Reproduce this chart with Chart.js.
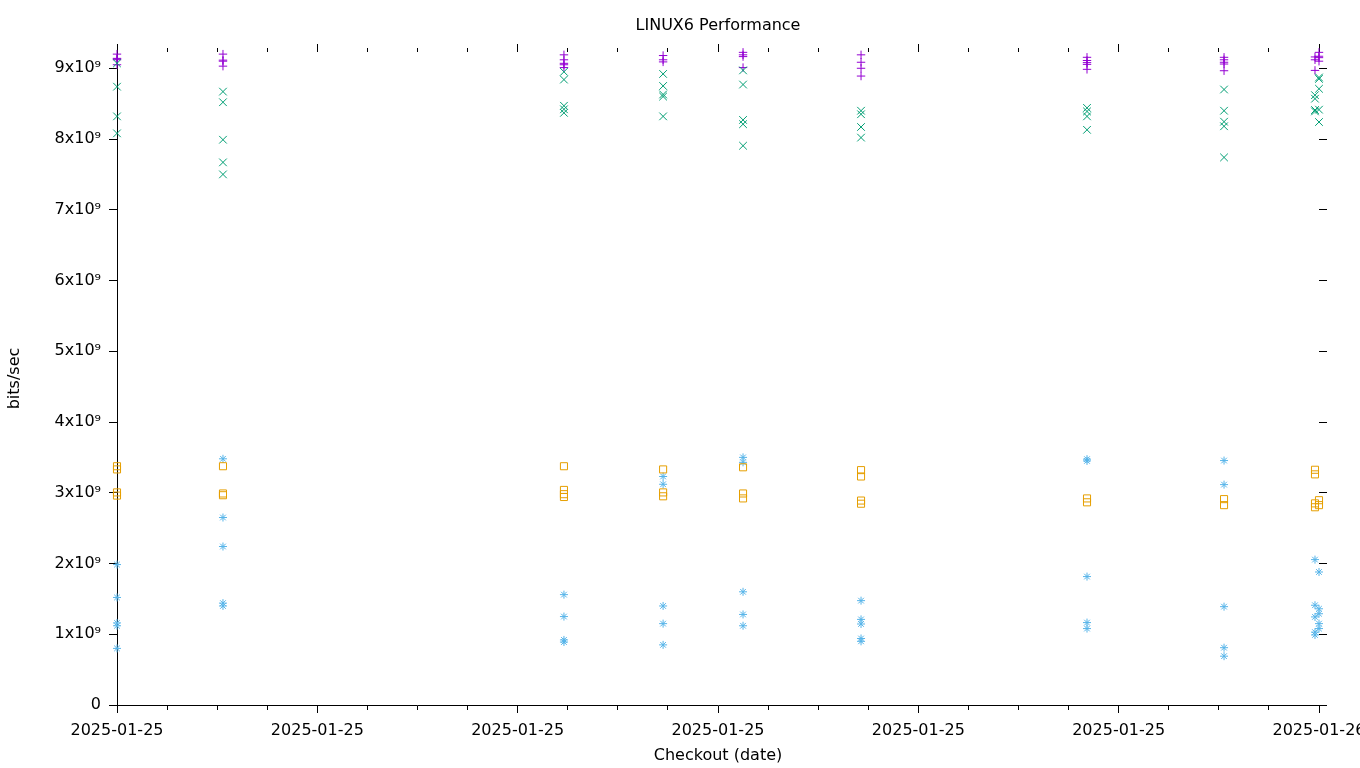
<!DOCTYPE html>
<html>
<head>
<meta charset="utf-8">
<script src="https://cdn.jsdelivr.net/npm/chart.js@4/dist/chart.umd.min.js"></script>
<style>
html,body{margin:0;padding:0;background:#fff;}
#wrap{width:1360px;height:768px;}
</style>
</head>
<body>
<div id="wrap"><canvas id="c" width="1360" height="768"></canvas></div>
<script>
// ---- data (values in units of 1x10^9 bits/sec) ----
const chartTitle = 'LINUX6 Performance';
const xTitle = 'Checkout (date)';
const yTitle = 'bits/sec';
// checkout positions along the time axis, in units of the major tick interval
const checkoutPositions = [0, 0.529, 2.231, 2.726, 3.125, 3.714, 4.842, 5.526, 5.980, 6.0];
const xTickLabels = ['2025-01-25', '2025-01-25', '2025-01-25', '2025-01-25', '2025-01-25', '2025-01-25', '2025-01-26'];
const yTickLabels = ['0', '1x10\u2079', '2x10\u2079', '3x10\u2079', '4x10\u2079', '5x10\u2079', '6x10\u2079', '7x10\u2079', '8x10\u2079', '9x10\u2079'];
const seriesColors = ['#9400d3', '#009e73', '#56b4e9', '#e69f00'];

const seriesPlus = [
  [9.20, 9.14, 9.13, 9.12, 9.05],
  [9.20, 9.115, 9.10, 9.03],
  [9.19, 9.12, 9.07, 9.05, 9.01],
  [9.18, 9.12, 9.09],
  [9.225, 9.19, 9.165, 9.01],
  [9.19, 9.085, 9.00, 8.89],
  [9.155, 9.11, 9.08, 9.055, 8.985],
  [9.155, 9.12, 9.085, 9.06, 8.965],
  [9.16, 9.12, 8.97],
  [9.225, 9.17, 9.15, 9.10]
];
const seriesCross = [
  [9.07, 8.74, 8.32, 8.08],
  [8.67, 8.52, 7.99, 7.67, 7.50],
  [8.95, 8.84, 8.47, 8.42, 8.37],
  [8.92, 8.75, 8.63, 8.60, 8.32],
  [8.97, 8.77, 8.27, 8.21, 7.905],
  [8.40, 8.35, 8.17, 8.02],
  [8.44, 8.39, 8.32, 8.13],
  [8.70, 8.40, 8.245, 8.18, 7.74],
  [8.62, 8.57, 8.41, 8.39],
  [8.87, 8.85, 8.71, 8.415, 8.24]
];
const seriesStar = [
  [1.985, 1.52, 1.16, 1.12, 0.80],
  [3.48, 2.65, 2.24, 1.44, 1.40],
  [1.56, 1.25, 0.92, 0.89],
  [3.23, 3.12, 1.40, 1.15, 0.85],
  [3.50, 3.43, 1.60, 1.28, 1.12],
  [1.475, 1.21, 1.145, 0.94, 0.90],
  [3.475, 3.45, 1.815, 1.165, 1.08],
  [3.455, 3.115, 1.39, 0.81, 0.69],
  [2.055, 1.41, 1.245, 1.03, 0.99],
  [1.88, 1.36, 1.29, 1.15, 1.08]
];
const seriesBox = [
  [3.375, 3.33, 3.005, 2.96],
  [3.375, 2.99, 2.965],
  [3.375, 3.04, 2.98, 2.94],
  [3.33, 3.005, 2.95],
  [3.36, 2.99, 2.92],
  [3.32, 3.23, 2.89, 2.845],
  [2.92, 2.865],
  [2.91, 2.825],
  [3.325, 3.26, 2.85, 2.795],
  [2.895, 2.825]
];
const xMin = 0, xMax = 6, xMinorStep = 0.25;
const yMin = 0, yMax = 9.23, yStep = 1;

// ---- build ----
function toPoints(groups) {
  const pts = [];
  groups.forEach((vals, i) => vals.forEach(v => pts.push({x: checkoutPositions[i], y: v})));
  return pts;
}
const isMajor = v => Math.abs(v - Math.round(v)) < 1e-6;

Chart.defaults.font.family = "'DejaVu Sans', sans-serif";
Chart.defaults.font.size = 16;
Chart.defaults.color = '#000';

const fixW = w => (s) => { s.width = w; s.paddingTop = 0; s.paddingBottom = 0; s.paddingLeft = 0; s.paddingRight = 0; };
const fixH = h => (s) => { s.height = h; s.paddingLeft = 0; s.paddingRight = 0; s.paddingTop = 0; s.paddingBottom = 0; };

const mk = (label, data, color, style, radius, order) => ({
  label, data, order,
  showLine: false,
  pointStyle: style,
  pointRadius: radius,
  pointHoverRadius: radius,
  pointBorderWidth: 1,
  borderColor: color,
  backgroundColor: 'rgba(0,0,0,0)',
  pointBackgroundColor: 'rgba(0,0,0,0)',
  pointBorderColor: color,
  clip: false
});

new Chart(document.getElementById('c'), {
  type: 'scatter',
  data: {
    datasets: [
      mk('s1', toPoints(seriesPlus), seriesColors[0], 'cross', 4.2, 4),
      mk('s2', toPoints(seriesCross), seriesColors[1], 'crossRot', 5.4, 3),
      mk('s3', toPoints(seriesStar), seriesColors[2], 'star', 4, 2),
      mk('s4', toPoints(seriesBox), seriesColors[3], 'rect', 5, 1)
    ]
  },
  options: {
    responsive: false,
    animation: false,
    events: [],
    layout: {padding: 0},
    plugins: {legend: {display: false}, tooltip: {enabled: false}, title: {display: false}},
    scales: {
      x: {
        type: 'linear', position: 'bottom', min: xMin, max: xMax, bounds: 'data',
        ticks: {
          stepSize: xMinorStep, maxTicksLimit: 1000, autoSkip: false, maxRotation: 0, minRotation: 0,
          includeBounds: false, padding: 8, color: '#000',
          callback: (v) => isMajor(v) ? xTickLabels[Math.round(v)] : ''
        },
        grid: {
          drawOnChartArea: false, color: '#000', tickLength: 8, tickWidth: 1,
          tickBorderDash: (c) => isMajor(c.tick.value) ? [] : [4, 100]
        },
        border: {display: true, color: '#000', width: 1},
        title: {display: true, text: xTitle, padding: {top: 0, bottom: 3}, font: {size: 16}},
        afterFit: fixH(63)
      },
      x2: {
        type: 'linear', position: 'top', min: xMin, max: xMax, bounds: 'data',
        ticks: {display: false, stepSize: xMinorStep, maxTicksLimit: 1000, includeBounds: false},
        grid: {
          drawOnChartArea: false, color: '#000', tickLength: 8, tickWidth: 1,
          tickBorderDash: (c) => isMajor(c.tick.value) ? [] : [0, 4, 4, 100]
        },
        border: {display: false},
        title: {display: true, text: chartTitle, padding: {top: 16, bottom: 0}, font: {size: 16}},
        afterFit: fixH(52)
      },
      y: {
        type: 'linear', position: 'left', min: yMin, max: yMax, bounds: 'data',
        ticks: {
          stepSize: yStep, maxTicksLimit: 1000, includeBounds: false, padding: 8, color: '#000',
          callback: (v) => yTickLabels[Math.round(v)]
        },
        grid: {drawOnChartArea: false, color: '#000', tickLength: 8, tickWidth: 1},
        border: {display: true, color: '#000', width: 1},
        title: {display: true, text: yTitle, padding: {top: 5, bottom: 0}, font: {size: 16}},
        afterFit: fixW(117)
      },
      y2: {
        type: 'linear', position: 'right', min: yMin, max: yMax, bounds: 'data',
        ticks: {display: false, stepSize: yStep, maxTicksLimit: 1000, includeBounds: false},
        grid: {drawOnChartArea: false, color: '#000', tickLength: 8, tickWidth: 1},
        border: {display: false},
        afterFit: fixW(41)
      }
    }
  }
});
</script>
</body>
</html>
